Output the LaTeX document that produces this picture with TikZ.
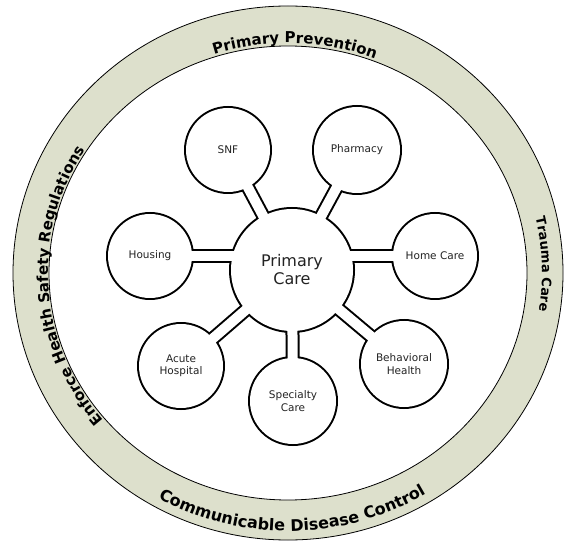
\documentclass[tikz,border=0pt]{standalone}
\usepackage{fontspec}
\setmainfont{DejaVu Sans}
\usetikzlibrary{decorations.text}
\definecolor{ringfill}{RGB}{221,224,204}
\definecolor{labelgray}{RGB}{35,35,35}
\newcommand{\ringstyle}{\bfseries\fontsize{15}{18}\selectfont}
\newcommand{\ringstylebig}{\bfseries\fontsize{16}{19}\selectfont}
\newcommand{\ringstylesmall}{\bfseries\fontsize{13}{16}\selectfont}
\tikzset{
  ringline/.style={draw=black, line width=0.8pt},
  barout/.style={draw=black, line width=14pt},
  barin/.style={draw=white, line width=10pt},
  satlabel/.style={align=center, text=labelgray, font=\fontsize{10.5}{12.5}\selectfont},
  hublabel/.style={align=center, text=labelgray, font=\fontsize{16}{18}\selectfont},
  ringtext/.style={decorate, decoration={text along path, text align=center}}
}
\begin{document}
\begin{tikzpicture}[x=1pt,y=1pt]
\useasboundingbox (0,0) rectangle (564,541);

% outer ring
\fill[ringfill, ringline] (288,268) ellipse [x radius=275pt, y radius=267pt];
\fill[white, ringline] (288,268) ellipse [x radius=239pt, y radius=227pt];

% ring texts
\path[ringtext, decoration={text={|\ringstyle|Primary Prevention}}]
  (288,268) ++(128.3:240pt and 230pt) arc[start angle=128.3, end angle=48.3, x radius=240pt, y radius=230pt];
\path[ringtext, decoration={text={|\ringstylesmall|Trauma Care}}]
  (288,268) ++(32:254pt and 246pt) arc[start angle=32, end angle=-28, x radius=254pt, y radius=246pt];
\path[ringtext, decoration={text={|\ringstylebig|Communicable Disease Control}}]
  (288,268) ++(226:266pt and 258pt) arc[start angle=226, end angle=316, x radius=266pt, y radius=258pt];
\path[ringtext, decoration={text={|\ringstyle|Enforce Health Safety Regulations}}]
  (288,268) ++(228.7:240pt and 230pt) arc[start angle=228.7, end angle=138.7, x radius=240pt, y radius=230pt];

% hub positions
\coordinate (pc) at (292,271);
\coordinate (snf) at (228,391);
\coordinate (pharm) at (357,391);
\coordinate (housing) at (150,285);
\coordinate (home) at (435,285);
\coordinate (acute) at (181,175);
\coordinate (spec) at (293,140);
\coordinate (behav) at (404,177);

% black layer
\draw[barout] (pc) -- (snf);
\draw[barout] (pc) -- (pharm);
\draw[barout] (housing) -- (housing -| pc);
\draw[barout] (home) -- (home -| pc);
\draw[barout] (pc) -- (acute);
\draw[barout] (pc) -- (spec);
\draw[barout] (pc) -- (behav);
\fill[black] (pc) circle[radius=63pt];
\fill[black] (snf) circle[radius=44pt];
\fill[black] (pharm) circle[radius=45pt];
\fill[black] (housing) circle[radius=44pt];
\fill[black] (home) circle[radius=44pt];
\fill[black] (acute) circle[radius=44pt];
\fill[black] (spec) circle[radius=45pt];
\fill[black] (behav) circle[radius=45pt];

% white layer
\draw[barin] (pc) -- (snf);
\draw[barin] (pc) -- (pharm);
\draw[barin] (housing) -- (housing -| pc);
\draw[barin] (home) -- (home -| pc);
\draw[barin] (pc) -- (acute);
\draw[barin] (pc) -- (spec);
\draw[barin] (pc) -- (behav);
\fill[white] (pc) circle[radius=61pt];
\fill[white] (snf) circle[radius=42pt];
\fill[white] (pharm) circle[radius=43pt];
\fill[white] (housing) circle[radius=42pt];
\fill[white] (home) circle[radius=42pt];
\fill[white] (acute) circle[radius=42pt];
\fill[white] (spec) circle[radius=43pt];
\fill[white] (behav) circle[radius=43pt];

% labels
\node[hublabel] (pc-l) at (pc) {Primary\\Care};
\node[satlabel] (snf-l) at (snf) {SNF};
\node[satlabel] (pharm-l) at (pharm) {Pharmacy};
\node[satlabel] (housing-l) at (housing) {Housing};
\node[satlabel] (home-l) at (home) {Home Care};
\node[satlabel] (acute-l) at (acute) {Acute\\Hospital};
\node[satlabel] (spec-l) at (spec) {Specialty\\Care};
\node[satlabel] (behav-l) at (behav) {Behavioral\\Health};
\end{tikzpicture}
\end{document}
